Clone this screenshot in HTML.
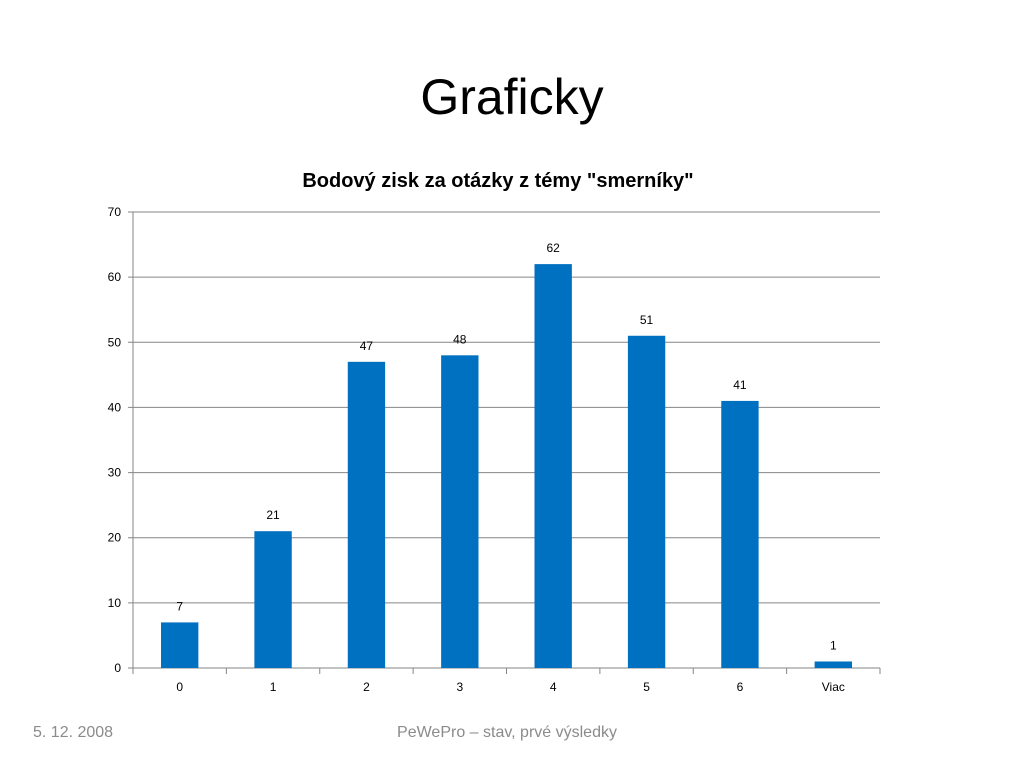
<!DOCTYPE html>
<html><head><meta charset="utf-8">
<style>
html,body{margin:0;padding:0;background:#fff;}
body{width:1024px;height:768px;position:relative;overflow:hidden;font-family:"Liberation Sans",sans-serif;}
.t{position:absolute;white-space:nowrap;}
</style></head>
<body>
<div class="t" style="left:0;width:1024px;text-align:center;top:68px;font-size:50px;color:#000;">Graficky</div>
<svg width="1024" height="768" style="position:absolute;left:0;top:0">
<text x="498" y="187" text-anchor="middle" font-family="Liberation Sans, sans-serif" font-weight="bold" font-size="20" fill="#000">Bodový zisk za otázky z témy "smerníky"</text>
<g id="grid"></g><g id="bars"></g><g id="axes"></g>
</svg>
<div class="t" style="left:33px;top:724px;font-size:16px;color:#8b8b8b;">5. 12. 2008</div>
<div class="t" style="left:0;width:1014px;text-align:center;top:724px;font-size:16px;color:#8b8b8b;">PeWePro – stav, prvé výsledky</div>
<script>
const categories=["0","1","2","3","4","5","6","Viac"];
const values=[7,21,47,48,62,51,41,1];
const yTicks=[0,10,20,30,40,50,60,70];
const NS="http://www.w3.org/2000/svg";
const L=133,R=880,T=212,B=668,yMax=70;
function y(v){return B-(v/yMax)*(B-T);}
const band=(R-L)/categories.length;
function xc(i){return L+band*(i+0.5);}
function mk(t,a,p){const e=document.createElementNS(NS,t);for(const k in a)e.setAttribute(k,a[k]);p.appendChild(e);return e;}
const g=document.getElementById('grid'),bg=document.getElementById('bars'),ax=document.getElementById('axes');
yTicks.forEach(v=>{
 const l=mk('line',{x1:L-5,x2:R,y1:y(v),y2:y(v),stroke:'#868686','stroke-width':1},g);
 
 
 const t=mk('text',{x:L-12,y:y(v)+4,'text-anchor':'end','font-size':12,'font-family':'Liberation Sans, sans-serif'},ax);
 t.textContent=v;
 
 
});
const ya=mk('line',{x1:L,x2:L,y1:T,y2:B,stroke:'#868686'},ax);


for(let i=0;i<=categories.length;i++){
 const tk=mk('line',{x1:L+band*i,x2:L+band*i,y1:B,y2:B+6,stroke:'#868686'},ax);
 
 
}
const bw=band*0.4;
categories.forEach((c,i)=>{
 const v=values[i];
 const r=mk('rect',{x:xc(i)-bw/2,y:y(v),width:bw,height:B-y(v),fill:'#0070c0'},bg);
 
 
 const lb=mk('text',{x:xc(i),y:y(v)-12,'text-anchor':'middle','font-size':12,'font-family':'Liberation Sans, sans-serif'},bg);
 lb.textContent=v;
 
 
 const xl=mk('text',{x:xc(i),y:B+23,'text-anchor':'middle','font-size':12,'font-family':'Liberation Sans, sans-serif'},ax);
 xl.textContent=c;
 
 
});
</script>
</body></html>
